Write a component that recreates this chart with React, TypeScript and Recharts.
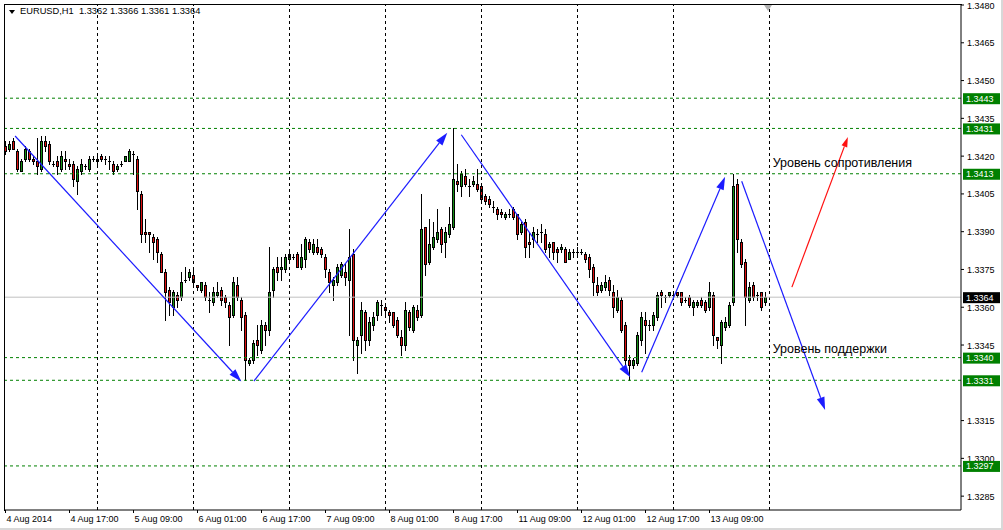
import { ComposedChart, Bar, XAxis, YAxis, ReferenceLine, ReferenceDot } from "recharts";

// EURUSD H1, 4 Aug 2014 - 13 Aug 2014
const opens = [
  1.3424, 1.3423, 1.3426, 1.3422, 1.3414, 1.3419, 1.3422, 1.3419, 1.3418, 1.3415, 1.3426, 1.3425, 1.3417, 1.3418, 1.3415, 1.3419,
  1.3417, 1.3417, 1.341, 1.3414, 1.3416, 1.3415, 1.3419, 1.3418, 1.342, 1.3419, 1.3418, 1.3417, 1.3415, 1.3417, 1.3418, 1.3418,
  1.3421, 1.3419, 1.3405, 1.339, 1.339, 1.3388, 1.3387, 1.3381, 1.3374, 1.3367, 1.336, 1.3365, 1.3364, 1.3371, 1.3372, 1.3373,
  1.3369, 1.3367, 1.3369, 1.3363, 1.3362, 1.3365, 1.3367, 1.3364, 1.3361, 1.3357, 1.3369, 1.3363, 1.3357, 1.3338, 1.3339, 1.3347,
  1.3343, 1.3353, 1.3351, 1.3367, 1.3376, 1.3375, 1.3375, 1.3379, 1.338, 1.3381, 1.3376, 1.3379, 1.3386, 1.3382, 1.3384, 1.3383,
  1.338, 1.3374, 1.3369, 1.337, 1.3373, 1.3374, 1.3371, 1.3381, 1.3345, 1.3349, 1.3358, 1.3347, 1.3353, 1.3357, 1.3361, 1.336,
  1.3358, 1.3358, 1.3355, 1.3348, 1.3345, 1.3358, 1.3351, 1.3359, 1.3357, 1.3392, 1.3378, 1.3384, 1.3387, 1.3391, 1.3386, 1.3389,
  1.3392, 1.341, 1.3408, 1.3412, 1.3408, 1.3409, 1.3409, 1.3408, 1.3404, 1.3403, 1.34, 1.3399, 1.3398, 1.3396, 1.3397, 1.3399,
  1.3397, 1.339, 1.3394, 1.3386, 1.3387, 1.3389, 1.339, 1.3389, 1.3384, 1.3386, 1.3383, 1.3383, 1.3383, 1.3379, 1.3382, 1.3382,
  1.3382, 1.3381, 1.338, 1.3376, 1.3369, 1.3367, 1.3368, 1.3371, 1.3366, 1.3359, 1.3363, 1.3353, 1.3339, 1.3337, 1.3338, 1.3347,
  1.3355, 1.3353, 1.3353, 1.3356, 1.3366, 1.3364, 1.3365, 1.3365, 1.3366, 1.3366, 1.3363, 1.3364, 1.336, 1.3361, 1.3363, 1.3362,
  1.336, 1.3365, 1.3348, 1.3345, 1.3352, 1.3353, 1.3362, 1.3409, 1.3386, 1.3378, 1.3363, 1.3369, 1.3365, 1.3366, 1.3362,
];
const highs = [
  1.3426, 1.3426, 1.3427, 1.3423, 1.3419, 1.3424, 1.3423, 1.342, 1.3427, 1.3428, 1.3428, 1.3426, 1.3418, 1.342, 1.3422, 1.3422,
  1.3419, 1.3418, 1.3416, 1.3419, 1.3417, 1.342, 1.342, 1.342, 1.3421, 1.342, 1.342, 1.3418, 1.3417, 1.3418, 1.342, 1.3423,
  1.3422, 1.342, 1.3406, 1.3395, 1.339, 1.3389, 1.3388, 1.3382, 1.3375, 1.3368, 1.3367, 1.3366, 1.3374, 1.3376, 1.3375, 1.3375,
  1.3369, 1.337, 1.337, 1.3366, 1.3368, 1.337, 1.3368, 1.3365, 1.3362, 1.3372, 1.3372, 1.3364, 1.3358, 1.334, 1.3347, 1.3353,
  1.3355, 1.3354, 1.3384, 1.3376, 1.338, 1.338, 1.3381, 1.3382, 1.3381, 1.3382, 1.3385, 1.3388, 1.3387, 1.3387, 1.3387, 1.3384,
  1.3381, 1.3375, 1.3372, 1.3377, 1.3378, 1.3377, 1.3391, 1.3383, 1.3348, 1.3362, 1.3359, 1.3356, 1.3358, 1.3363, 1.3363, 1.3361,
  1.3359, 1.3358, 1.3356, 1.3351, 1.3362, 1.3359, 1.3361, 1.3361, 1.3405, 1.3392, 1.3395, 1.3394, 1.3399, 1.3392, 1.3392, 1.34,
  1.3431, 1.3417, 1.3414, 1.3415, 1.3411, 1.3412, 1.3415, 1.3409, 1.3405, 1.3404, 1.3402, 1.34, 1.3399, 1.3398, 1.3399, 1.34,
  1.3397, 1.3394, 1.3395, 1.339, 1.3392, 1.3391, 1.3393, 1.3391, 1.3386, 1.3386, 1.3384, 1.3385, 1.3384, 1.3383, 1.3383, 1.3384,
  1.3383, 1.3382, 1.3381, 1.3377, 1.3372, 1.337, 1.3373, 1.3372, 1.3369, 1.3367, 1.3364, 1.3354, 1.3341, 1.334, 1.335, 1.3358,
  1.3358, 1.3355, 1.3358, 1.3366, 1.3367, 1.3365, 1.3366, 1.3366, 1.3366, 1.3366, 1.3364, 1.3365, 1.3363, 1.3363, 1.3364, 1.3363,
  1.337, 1.3366, 1.3348, 1.3355, 1.3356, 1.3362, 1.3413, 1.3411, 1.3387, 1.3379, 1.337, 1.337, 1.3366, 1.3366, 1.3366,
];
const lows = [
  1.3421, 1.3422, 1.3423, 1.3414, 1.3414, 1.3418, 1.3418, 1.3417, 1.3413, 1.3414, 1.3422, 1.3417, 1.3416, 1.3413, 1.3414, 1.3415,
  1.3415, 1.3408, 1.3405, 1.3413, 1.3415, 1.3414, 1.3418, 1.3417, 1.3418, 1.3417, 1.3415, 1.3413, 1.3414, 1.3416, 1.3418, 1.3418,
  1.3413, 1.3399, 1.3386, 1.3386, 1.3382, 1.3379, 1.3378, 1.3374, 1.3355, 1.3357, 1.3357, 1.336, 1.3363, 1.337, 1.3371, 1.3369,
  1.3367, 1.3366, 1.3363, 1.3358, 1.3361, 1.3364, 1.3361, 1.336, 1.3345, 1.3356, 1.3363, 1.3351, 1.3331, 1.3337, 1.3338, 1.3341,
  1.3342, 1.3345, 1.3349, 1.3364, 1.3371, 1.3371, 1.3374, 1.3378, 1.3379, 1.3376, 1.3375, 1.3376, 1.3382, 1.3381, 1.3381, 1.338,
  1.3372, 1.3366, 1.3363, 1.3369, 1.3372, 1.3369, 1.3349, 1.3339, 1.3334, 1.3342, 1.3343, 1.3345, 1.3351, 1.3355, 1.3357, 1.3357,
  1.3354, 1.3352, 1.3348, 1.3341, 1.3343, 1.3351, 1.335, 1.3355, 1.3356, 1.3373, 1.3377, 1.3383, 1.3386, 1.3382, 1.338, 1.3388,
  1.3391, 1.3406, 1.3404, 1.3408, 1.3404, 1.3408, 1.3406, 1.3402, 1.3401, 1.34, 1.3398, 1.3395, 1.3396, 1.3395, 1.3396, 1.3395,
  1.3387, 1.3389, 1.338, 1.338, 1.3384, 1.3386, 1.3386, 1.3382, 1.338, 1.3379, 1.3378, 1.3382, 1.3378, 1.3379, 1.338, 1.338,
  1.3381, 1.3378, 1.3372, 1.3365, 1.3365, 1.3366, 1.3367, 1.3365, 1.3356, 1.3358, 1.335, 1.3337, 1.3331, 1.3336, 1.3337, 1.3345,
  1.3342, 1.3351, 1.3351, 1.3355, 1.336, 1.3362, 1.3364, 1.3364, 1.3364, 1.3361, 1.3362, 1.336, 1.3357, 1.336, 1.336, 1.3358,
  1.3359, 1.3345, 1.3344, 1.3338, 1.3351, 1.3352, 1.3361, 1.3382, 1.3376, 1.3353, 1.3362, 1.3363, 1.3363, 1.3359, 1.3361,
];
const closes = [
  1.3422, 1.3425, 1.3423, 1.3415, 1.3418, 1.3423, 1.3419, 1.3418, 1.3416, 1.3426, 1.3424, 1.3418, 1.3417, 1.3416, 1.342, 1.3418,
  1.3416, 1.3411, 1.3415, 1.3417, 1.3416, 1.3419, 1.3419, 1.3419, 1.3419, 1.3419, 1.3418, 1.3414, 1.3416, 1.3417, 1.342, 1.3422,
  1.3421, 1.3406, 1.3389, 1.3389, 1.3389, 1.3386, 1.3382, 1.3374, 1.3366, 1.3362, 1.3366, 1.3363, 1.337, 1.3371, 1.3374, 1.337,
  1.3368, 1.337, 1.3364, 1.3363, 1.3366, 1.3366, 1.3363, 1.3362, 1.3356, 1.337, 1.3364, 1.3356, 1.3339, 1.3339, 1.3346, 1.3345,
  1.3353, 1.3351, 1.3366, 1.3375, 1.3374, 1.3376, 1.338, 1.3381, 1.338, 1.3376, 1.338, 1.3387, 1.3383, 1.3385, 1.3382, 1.3381,
  1.3375, 1.337, 1.3371, 1.3376, 1.3377, 1.3372, 1.338, 1.3347, 1.3347, 1.3359, 1.3347, 1.3354, 1.3356, 1.3362, 1.3361, 1.3359,
  1.3357, 1.3353, 1.3349, 1.3345, 1.3359, 1.3352, 1.336, 1.3356, 1.3391, 1.3377, 1.3385, 1.3388, 1.339, 1.3385, 1.339, 1.3393,
  1.3411, 1.3409, 1.3413, 1.3409, 1.3408, 1.341, 1.3407, 1.3403, 1.3402, 1.3401, 1.34, 1.3397, 1.3397, 1.3397, 1.3397, 1.3396,
  1.3389, 1.3393, 1.3384, 1.3385, 1.339, 1.3389, 1.339, 1.3383, 1.3385, 1.3382, 1.3382, 1.3384, 1.3378, 1.3382, 1.3382, 1.3382,
  1.3382, 1.3379, 1.3375, 1.337, 1.3366, 1.3369, 1.337, 1.3367, 1.336, 1.3364, 1.3351, 1.3339, 1.3337, 1.3339, 1.3349, 1.3356,
  1.3353, 1.3353, 1.3357, 1.3365, 1.3365, 1.3364, 1.3366, 1.3365, 1.3365, 1.3362, 1.3363, 1.3361, 1.3362, 1.3362, 1.3361, 1.3359,
  1.3366, 1.3349, 1.3347, 1.3354, 1.3354, 1.3361, 1.3408, 1.3387, 1.3377, 1.3364, 1.3368, 1.3364, 1.3365, 1.336, 1.3364,
];

const xTicks = [0, 16, 32, 48, 64, 80, 96, 112, 128, 144, 160, 176];
const xLabels = [
  "4 Aug 2014", "4 Aug 17:00", "5 Aug 09:00", "6 Aug 01:00", "6 Aug 17:00", "7 Aug 09:00",
  "8 Aug 01:00", "8 Aug 17:00", "11 Aug 09:00", "12 Aug 01:00", "12 Aug 17:00", "13 Aug 09:00",
];
const dayBreaks = [23, 47, 71, 95, 119, 143, 167, 191];
// 1.3330 sits under the 1.3331 tag and is not visible
const yTicks = [
  1.348, 1.3465, 1.345, 1.3435, 1.342, 1.3405, 1.339, 1.3375, 1.336, 1.3345, 1.3315, 1.33, 1.3285,
];
const levels = [1.3443, 1.3431, 1.3413, 1.334, 1.3331, 1.3297];
const lastPrice = 1.3364;

// trend arrows: [barIndex, price]
const trendFrom = [[2.4, 1.3428], [62.1, 1.33307], [113.95, 1.34285], [159.05, 1.33342], [184.05, 1.341]];
const trendTo = [[58.95, 1.33305], [110.45, 1.34293], [156.2, 1.33322], [179.9, 1.34118], [204.9, 1.33192]];
const breakoutFrom = [196.6, 1.3368];
const breakoutTo = [210.6, 1.34276];

const FONT = "'Liberation Sans', Arial, sans-serif";

const candles = opens.map((o, i) => ({
  i,
  open: o,
  high: highs[i],
  low: lows[i],
  close: closes[i],
}));

function Candle(props: any) {
  const { x, y, width, height, payload } = props;
  if (!payload || height == null) return null;
  const { open, high, low, close } = payload;
  const cx = x + width / 2;
  const top = Math.min(y, y + height);
  const h = Math.abs(height);
  const k = high > low ? h / (high - low) : 0;
  const py = (v: number) => top + (high - v) * k;
  const left = Math.round(cx - 1.5);
  const wTop = Math.round(top);
  const wBot = Math.round(top + h);
  const bTop = Math.round(py(Math.max(open, close)));
  const bBot = Math.round(py(Math.min(open, close)));
  const fill = close > open ? "#159015" : "#dd1010";
  return (
    <g>
      <rect x={left + 1} y={wTop} width={1} height={Math.max(1, wBot - wTop + 1)} fill="#000" />
      {bBot - bTop < 1 || close === open ? (
        <rect x={left} y={bTop} width={3} height={1} fill="#000" />
      ) : (
        <g>
          <rect x={left} y={bTop} width={3} height={bBot - bTop + 1} fill="#000" />
          {bBot - bTop >= 2 && (
            <rect x={left + 1} y={bTop + 1} width={1} height={bBot - bTop - 1} fill={fill} />
          )}
        </g>
      )}
    </g>
  );
}

function arrowShape(color: string, len: number, half: number) {
  return (p: any) => {
    const { x1, y1, x2, y2 } = p;
    const dx = x2 - x1;
    const dy = y2 - y1;
    const d = Math.sqrt(dx * dx + dy * dy) || 1;
    const ux = dx / d;
    const uy = dy / d;
    const bx = x2 - ux * len;
    const by = y2 - uy * len;
    const pts = `${x2},${y2} ${bx - uy * half},${by + ux * half} ${bx + uy * half},${by - ux * half}`;
    return (
      <g>
        <line x1={x1} y1={y1} x2={bx} y2={by} stroke={color} strokeWidth={1.2} />
        <polygon points={pts} fill={color} />
      </g>
    );
  };
}

// price scale: plain ticks first, then the level tags drawn over them
function YTick(props: any) {
  const { x, y, payload } = props;
  const v = payload.value;
  const isLast = v === lastPrice;
  const isLevel = levels.includes(v);
  if (isLast || isLevel) {
    return (
      <g>
        <rect x={x - 3} y={y - 5} width={37} height={11} fill={isLast ? "#000" : "#008000"} />
        <text x={x} y={y + 3.5} fill="#fff" fontSize={9} fontFamily={FONT}>
          {v.toFixed(4)}
        </text>
      </g>
    );
  }
  return (
    <g>
      <line x1={x - 5} y1={y} x2={x - 2} y2={y} stroke="#000" />
      <text x={x + 1} y={y + 3.5} fill="#000" fontSize={9} fontFamily={FONT}>
        {v.toFixed(4)}
      </text>
    </g>
  );
}

function XTick(props: any) {
  const { x, y, payload } = props;
  const label = xLabels[xTicks.indexOf(payload.value)];
  return (
    <text x={x + 1} y={y + 7} fontSize={9} fontFamily={FONT} fill="#000">
      {label}
    </text>
  );
}

export default function App() {
  return (
    <div style={{ position: "absolute", left: 0, top: 0, width: 1003, height: 530, background: "#fff" }}>
      <ComposedChart
        width={1003}
        height={530}
        data={candles}
        margin={{ top: 4, left: 4, right: 0, bottom: 0 }}
      >
        <XAxis
          dataKey="i"
          type="number"
          domain={[-0.375, 238.875]}
          ticks={xTicks}
          tick={<XTick />}
          tickSize={3}
          tickMargin={2}
          height={20}
          stroke="#000"
          interval={0}
          allowDataOverflow
        />
        <YAxis
          orientation="right"
          type="number"
          domain={[1.32795, 1.34804]}
          ticks={[...yTicks, lastPrice, ...levels]}
          width={42}
          tickSize={3}
          tickMargin={2}
          tickLine={false}
          stroke="#000"
          interval={0}
          allowDataOverflow
          tick={<YTick />}
        />
        {dayBreaks.map((d) => (
          <ReferenceLine key={"d" + d} x={d} stroke="#000" strokeDasharray="3 3" />
        ))}
        <ReferenceLine y={lastPrice} stroke="#c0c0c0" />
        {levels.map((v) => (
          <ReferenceLine key={"l" + v} y={v} stroke="#008000" strokeDasharray="3 3" />
        ))}
        <Bar
          dataKey={(d: any) => [d.low, d.high]}
          shape={Candle}
          barSize={3}
          isAnimationActive={false}
        />
        {trendFrom.map((f, k) => (
          <ReferenceLine
            key={"t" + k}
            segment={[
              { x: f[0], y: f[1] },
              { x: trendTo[k][0], y: trendTo[k][1] },
            ]}
            stroke="#1c1cff"
            shape={arrowShape("#1c1cff", 13, 4)}
          />
        ))}
        <ReferenceLine
          segment={[
            { x: breakoutFrom[0], y: breakoutFrom[1] },
            { x: breakoutTo[0], y: breakoutTo[1] },
          ]}
          stroke="#ff0000"
          shape={arrowShape("#ff1010", 10, 3)}
        />
        <ReferenceDot
          x={191.8}
          y={1.34155}
          r={1}
          shape={(p: any) => (
            <text x={p.cx} y={p.cy} fontSize={12.5} fontFamily={FONT} fill="#000">
              Уровень сопротивления
            </text>
          )}
        />
        <ReferenceDot
          x={191.8}
          y={1.33418}
          r={1}
          shape={(p: any) => (
            <text x={p.cx} y={p.cy} fontSize={12.5} fontFamily={FONT} fill="#000">
              Уровень поддержки
            </text>
          )}
        />
      </ComposedChart>
      <div
        style={{
          position: "absolute",
          left: 4,
          top: 4,
          width: 957,
          height: 506,
          borderLeft: "1px solid #000",
          borderTop: "1px solid #000",
          pointerEvents: "none",
        }}
      />
      <div
        style={{
          position: "absolute",
          left: 9,
          top: 10,
          width: 0,
          height: 0,
          borderLeft: "3.5px solid transparent",
          borderRight: "3.5px solid transparent",
          borderTop: "4px solid #000",
        }}
      />
      <div
        style={{
          position: "absolute",
          left: 20,
          top: 6,
          fontFamily: FONT,
          fontSize: 9.3,
          whiteSpace: "pre",
          color: "#000",
        }}
      >
        {"EURUSD,H1  1.3362 1.3366 1.3361 1.3364"}
      </div>
      <div
        style={{
          position: "absolute",
          left: 764,
          top: 5,
          width: 0,
          height: 0,
          borderLeft: "4px solid transparent",
          borderRight: "4px solid transparent",
          borderTop: "6px solid #b0b0b0",
        }}
      />
      <div
        style={{
          position: "absolute",
          left: 0,
          top: 0,
          width: 1001,
          height: 528,
          borderRight: "2px solid #d8d8d8",
          borderBottom: "2px solid #d8d8d8",
          pointerEvents: "none",
        }}
      />
    </div>
  );
}
